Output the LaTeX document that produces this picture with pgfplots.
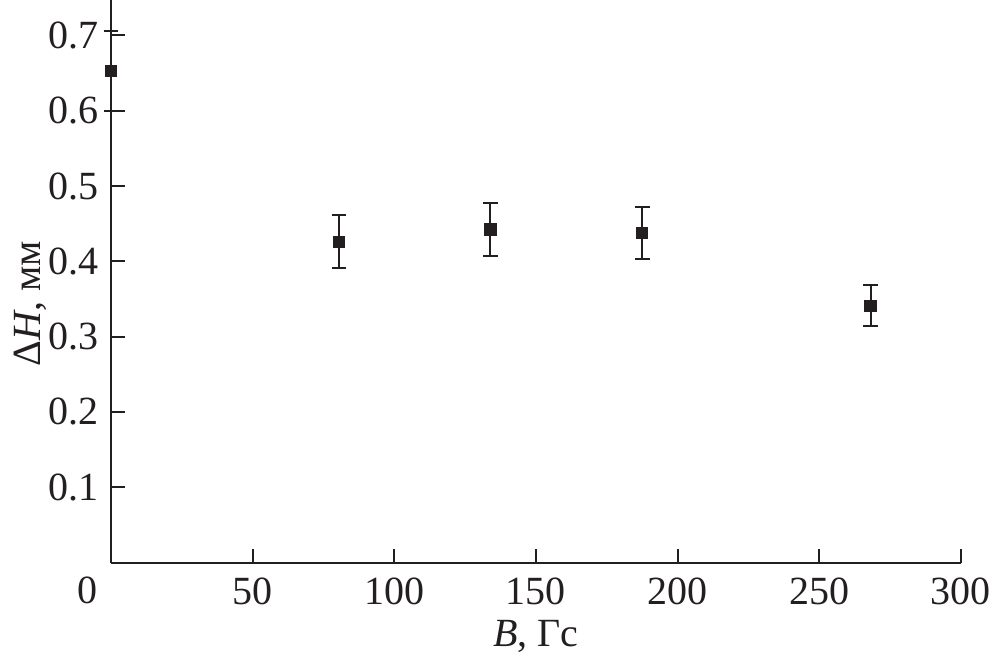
\documentclass[border=0pt]{standalone}
\usepackage{pgfplots}
\pgfplotsset{compat=1.18}
\usepackage{fontspec}
\setmainfont{Liberation Serif}
\definecolor{ink}{HTML}{231F20}
\begin{document}
\begin{tikzpicture}
\useasboundingbox (0,0) rectangle (496pt,331pt);
\begin{axis}[
  at={(55.5pt,49.7pt)}, anchor=south west,
  scale only axis, width=425pt, height=281.3pt,
  xmin=0, xmax=300, ymin=0, ymax=0.747,
  axis x line*=bottom, axis y line*=left,
  axis line style={ink, line width=1pt},
  xtick={50,100,...,300},
  ytick={0.1,0.2,...,0.7},
  yticklabel style={/pgf/number format/fixed, /pgf/number format/precision=1, xshift=-2.5pt},
  xticklabel style={yshift=-4pt},
  /pgf/number format/assume math mode=true,
  tick align=inside,
  major tick length=7pt,
  tick style={ink, line width=1pt},
  ticklabel style={font=\fontsize{20}{24}\selectfont, text=ink},
  xlabel={\fontsize{20}{24}\selectfont\textit{B}, Гс},
  ylabel={\fontsize{20}{24}\selectfont Δ\textit{H}, мм},
  xlabel style={at={(axis description cs:0.5,0)}, anchor=base, yshift=-42pt, inner sep=0pt, text=ink},
  ylabel style={at={(axis description cs:-0.0835,0.46)}, anchor=base, inner sep=0pt, text=ink},
  clip=false,
]
\addplot[ink, only marks, mark=square*, mark size=2.6pt, line width=1pt,
  error bars/.cd, y dir=both, y explicit,
  error bar style={ink, line width=1pt},
  error mark options={rotate=90, mark size=3.7pt, line width=1pt, ink}]
  table[x=x, y=y, y error=e] {
  x y e
  0 0.653 0.053
  80.5 0.426 0.035
  133.9 0.442 0.035
  187.5 0.438 0.0345
  268.1 0.341 0.027
};
\node[anchor=north east, font=\fontsize{20}{24}\selectfont, text=ink, inner sep=0pt] at (axis cs:0,0) [xshift=-6.5pt, yshift=-7pt] {0};
\end{axis}
\end{tikzpicture}
\end{document}
